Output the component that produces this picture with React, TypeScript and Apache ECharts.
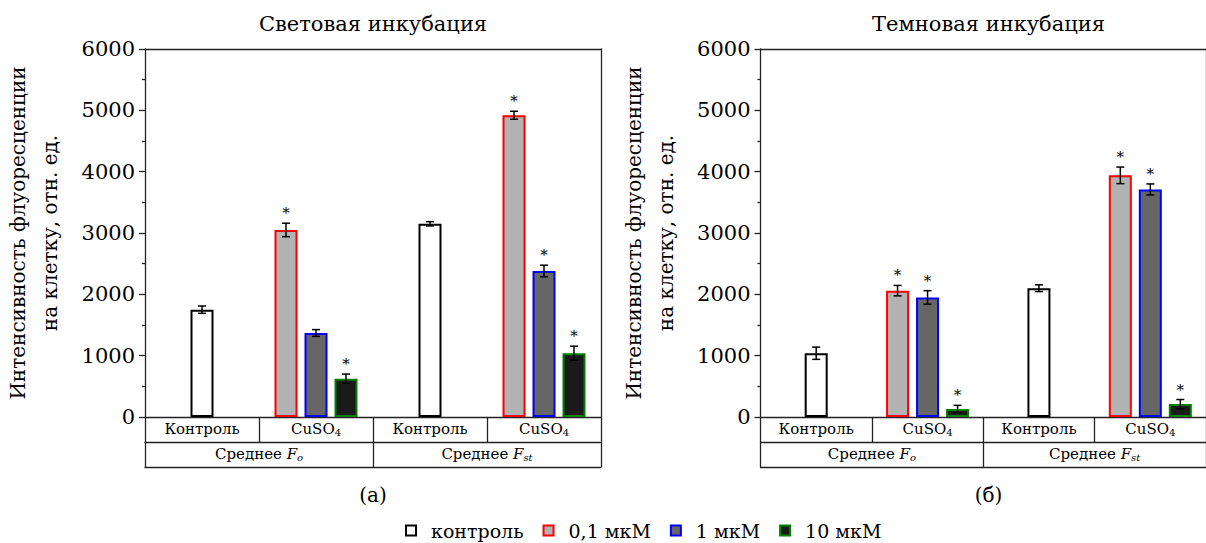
import React, { useEffect, useRef } from 'react';
import * as echarts from 'echarts';

// ---------- data ----------
const categories = ['Контроль', 'CuSO_4', 'Контроль', 'CuSO_4'];
const groups = ['Среднее F_o', 'Среднее F_st'];
const seriesNames = ['контроль', '0,1 мкМ', '1 мкМ', '10 мкМ'];
const panelTitles = ['Световая инкубация', 'Темновая инкубация'];
const panelTags = ['(а)', '(б)'];
const yAxisName = 'Интенсивность флуоресценции\nна клетку, отн. ед.';
const yMin = 0;
const yMax = 6000;
const yInterval = 1000;

// Световая инкубация (a)
const lightControl = [1750, null, 3150, null];
const lightControlErr = [60, null, 35, null];
const light01 = [null, 3050, null, 4920];
const light01Err = [null, 110, null, 65];
const light1 = [null, 1370, null, 2380];
const light1Err = [null, 55, null, 95];
const light10 = [null, 625, null, 1040];
const light10Err = [null, 75, null, 115];
const light01Star = [0, 1, 0, 1];
const light1Star = [0, 0, 0, 1];
const light10Star = [0, 1, 0, 1];

// Темновая инкубация (б)
const darkControl = [1040, null, 2100, null];
const darkControlErr = [100, null, 55, null];
const dark01 = [null, 2060, null, 3940];
const dark01Err = [null, 85, null, 135];
const dark1 = [null, 1950, null, 3710];
const dark1Err = [null, 110, null, 90];
const dark10 = [null, 130, null, 210];
const dark10Err = [null, 60, null, 75];
const dark01Star = [0, 1, 0, 1];
const dark1Star = [0, 1, 0, 1];
const dark10Star = [0, 1, 0, 1];

const fills = ['#ffffff', '#b3b3b3', '#666666', '#1a1a1a'];
const borders = ['#000000', '#ff0000', '#0000ff', '#008000'];

// ---------- layout ----------
const FONT = "'DejaVu Serif', 'Liberation Serif', serif";
const GRID_TOP = 49;
const GRID_H = 368;
const GRID_W = 456;
const GRID_LEFTS = [145, 760.5];
const ROW_H = 25;
const BAR_W = 23;
const BAR_STEP = 30;
const CAP = 4;
const LINE = '#222';

const panels = [
  {
    control: lightControl, controlErr: lightControlErr,
    treat: [light01, light1, light10],
    treatErr: [light01Err, light1Err, light10Err],
    stars: [light01Star, light1Star, light10Star],
  },
  {
    control: darkControl, controlErr: darkControlErr,
    treat: [dark01, dark1, dark10],
    treatErr: [dark01Err, dark1Err, dark10Err],
    stars: [dark01Star, dark1Star, dark10Star],
  },
];

const richStyles = {
  m: { fontFamily: FONT, fontSize: 15, color: '#000', lineHeight: 16, verticalAlign: 'top' },
  i: { fontFamily: FONT, fontSize: 15, color: '#000', fontStyle: 'italic', lineHeight: 16, verticalAlign: 'top' },
  sub: { fontFamily: FONT, fontSize: 10, color: '#000', lineHeight: 11, padding: [8, 0, 0, 0], verticalAlign: 'bottom' },
  subi: { fontFamily: FONT, fontSize: 10, color: '#000', fontStyle: 'italic', lineHeight: 11, padding: [8, 0, 0, 0], verticalAlign: 'bottom' },
};

function fmtCat(s: string) {
  const [a, b] = s.split('_');
  return b ? `{m|${a}}{sub|${b}}` : `{m|${a}}`;
}
function fmtGroup(s: string) {
  const [a, b] = s.split('_');
  const head = a.slice(0, -1);
  const letter = a.slice(-1);
  return `{m|${head}}{i|${letter}}{subi|${b}}`;
}

function buildOption() {
  const grid: any[] = [];
  const xAxis: any[] = [];
  const yAxis: any[] = [];
  const series: any[] = [];
  const graphic: any[] = [];

  panels.forEach((p, pi) => {
    grid.push({ left: GRID_LEFTS[pi], top: GRID_TOP, width: GRID_W, height: GRID_H, containLabel: false });
    const xb = xAxis.length;
    xAxis.push({
      gridIndex: pi, type: 'category', data: categories, position: 'bottom',
      axisLine: { show: true, lineStyle: { color: LINE, width: 1.3 } },
      axisTick: { show: true, length: ROW_H, interval: 0, lineStyle: { color: LINE, width: 1.3 } },
      axisLabel: { interval: 0, margin: ROW_H / 2, verticalAlign: 'middle', formatter: fmtCat, rich: richStyles },
      splitLine: { show: true, interval: (i: number) => i === 2, lineStyle: { color: '#aaaaaa', width: 1 } },
    });
    xAxis.push({ gridIndex: pi, type: 'category', data: categories, position: 'bottom', show: false });
    xAxis.push({
      gridIndex: pi, type: 'category', data: groups, position: 'bottom', offset: ROW_H,
      axisLine: { show: true, lineStyle: { color: LINE, width: 1.3 } },
      axisTick: { show: true, length: ROW_H, interval: 0, lineStyle: { color: LINE, width: 1.3 } },
      axisLabel: { interval: 0, margin: ROW_H / 2, verticalAlign: 'middle', formatter: fmtGroup, rich: richStyles },
      splitLine: { show: false },
    });
    xAxis.push({
      gridIndex: pi, type: 'category', data: groups, position: 'bottom', offset: ROW_H * 2,
      axisLine: { show: true, lineStyle: { color: LINE, width: 1.3 } },
      axisTick: { show: false }, axisLabel: { show: false }, splitLine: { show: false },
    });
    xAxis.push({
      gridIndex: pi, type: 'category', data: groups, position: 'top',
      axisLine: { show: true, lineStyle: { color: LINE, width: 1.3 } },
      axisTick: { show: false }, axisLabel: { show: false }, splitLine: { show: false },
    });

    const yb = yAxis.length;
    yAxis.push({
      gridIndex: pi, type: 'value', min: yMin, max: yMax, interval: yInterval, position: 'left',
      name: yAxisName, nameLocation: 'middle', nameRotate: 90, nameGap: 79,
      nameTextStyle: { fontFamily: FONT, fontSize: 20, color: '#000', lineHeight: 32 },
      axisLine: { show: true, lineStyle: { color: LINE, width: 1.3 } },
      axisTick: { show: true, length: 6, lineStyle: { color: LINE, width: 1.3 } },
      minorTick: { show: true, splitNumber: 2, length: 3, lineStyle: { color: LINE, width: 1.3 } },
      axisLabel: { fontFamily: FONT, fontSize: 21, color: '#000', margin: 10, formatter: (v: number) => String(v) },
      splitLine: { show: false },
    });
    yAxis.push({
      gridIndex: pi, type: 'value', min: yMin, max: yMax, interval: yInterval, position: 'right',
      axisLine: { show: true, lineStyle: { color: LINE, width: 1.3 } },
      axisTick: { show: false }, axisLabel: { show: false }, splitLine: { show: false },
    });

    series.push({
      type: 'bar', name: seriesNames[0], xAxisIndex: xb, yAxisIndex: yb, data: p.control,
      barWidth: BAR_W,
      itemStyle: { color: fills[0], borderColor: borders[0], borderWidth: 2 },
    });
    p.treat.forEach((d, k) => {
      series.push({
        type: 'bar', name: seriesNames[k + 1], xAxisIndex: xb + 1, yAxisIndex: yb, data: d,
        barWidth: BAR_W, barGap: `${((BAR_STEP - BAR_W) / BAR_W) * 100}%`,
        itemStyle: { color: fills[k + 1], borderColor: borders[k + 1], borderWidth: 2 },
      });
    });

    const errData: number[][] = [];
    p.control.forEach((v, c) => {
      if (v != null) errData.push([c, v, p.controlErr[c] as number, 0, 0]);
    });
    p.treat.forEach((d, k) => {
      d.forEach((v, c) => {
        if (v != null) errData.push([c, v, p.treatErr[k][c] as number, k - 1, p.stars[k][c]]);
      });
    });
    series.push({
      type: 'custom', name: 'err' + pi, xAxisIndex: xb, yAxisIndex: yb, z: 5,
      encode: { x: 0, y: 1 }, silent: true,
      data: errData,
      renderItem: (params: any, api: any) => {
        const c = api.value(0), v = api.value(1), e = api.value(2), slot = api.value(3), star = api.value(4);
        const x = api.coord([c, v])[0] + slot * BAR_STEP;
        const yHi = api.coord([c, v + e])[1];
        const yLo = api.coord([c, v - e])[1];
        const ls = { stroke: '#000', lineWidth: 1.5 };
        const children: any[] = [
          { type: 'line', shape: { x1: x, y1: yHi, x2: x, y2: yLo }, style: ls },
          { type: 'line', shape: { x1: x - CAP, y1: yHi, x2: x + CAP, y2: yHi }, style: ls },
          { type: 'line', shape: { x1: x - CAP, y1: yLo, x2: x + CAP, y2: yLo }, style: ls },
        ];
        if (star) {
          children.push({
            type: 'text', x, y: yHi - 10,
            style: { text: '*', fill: '#000', font: `15px ${FONT}`, align: 'center', verticalAlign: 'middle' },
          });
        }
        return { type: 'group', children };
      },
    });

    const cx = GRID_LEFTS[pi] + GRID_W / 2;
    graphic.push({
      type: 'text', x: cx, y: 24,
      style: { text: panelTitles[pi], fill: '#000', font: `21px ${FONT}`, align: 'center', verticalAlign: 'middle' },
    });
    graphic.push({
      type: 'text', x: cx, y: 495,
      style: { text: panelTags[pi], fill: '#000', font: `20px ${FONT}`, align: 'center', verticalAlign: 'middle' },
    });
  });

  return {
    animation: false,
    backgroundColor: '#ffffff',
    textStyle: { fontFamily: FONT },
    grid, xAxis, yAxis, series, graphic,
    legend: {
      data: seriesNames,
      left: 405, top: 521, padding: 0,
      itemWidth: 10, itemHeight: 10, itemGap: 19,
      icon: 'rect',
      itemStyle: { borderWidth: 2 },
      textStyle: { fontFamily: FONT, fontSize: 19, color: '#000', padding: [0, 0, 0, 10] },
    },
  };
}

export default function App() {
  const ref = useRef<HTMLDivElement>(null);
  useEffect(() => {
    if (!ref.current) return;
    const chart = echarts.init(ref.current, undefined, { renderer: 'svg' });
    chart.setOption(buildOption() as any);
    return () => chart.dispose();
  }, []);
  return (
    <div
      ref={ref}
      style={{ position: 'absolute', left: 0, top: 0, width: 1206, height: 543, background: '#fff' }}
    />
  );
}
